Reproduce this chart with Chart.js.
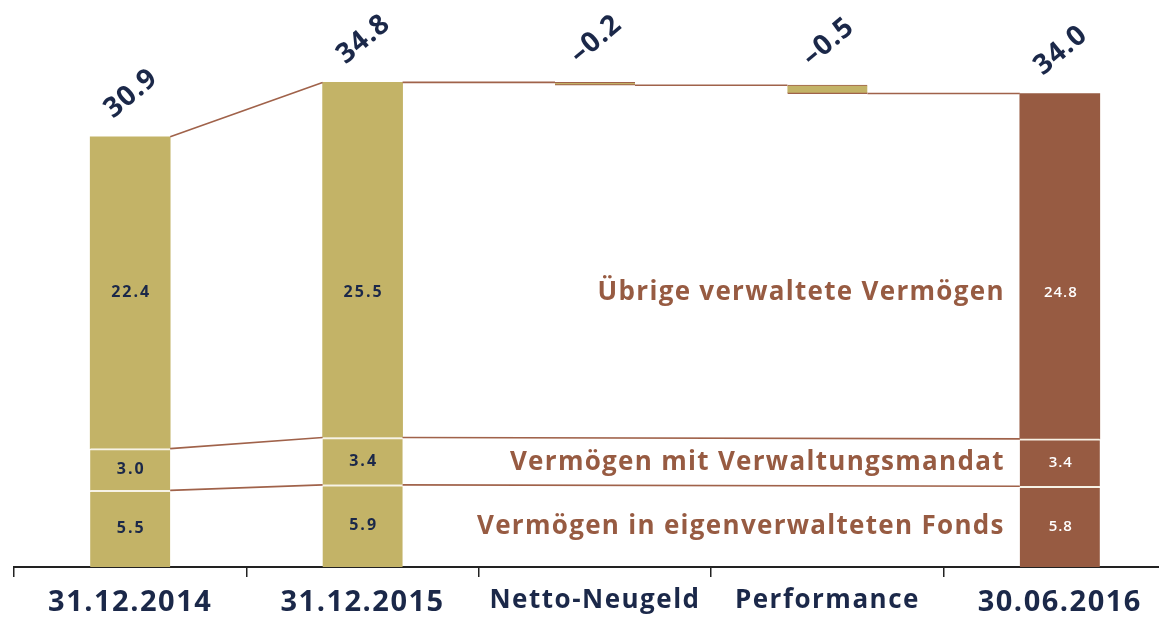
<!DOCTYPE html>
<html>
<head>
<meta charset="utf-8">
<title>Vermögen</title>
<script src="https://cdn.jsdelivr.net/npm/chart.js@4.4.1/dist/chart.umd.min.js"></script>
<style>
  html, body { margin: 0; padding: 0; background: #fff; overflow: hidden; }
  #wrap { position: relative; width: 1176px; height: 619px; }
</style>
</head>
<body>
<div id="wrap"><canvas id="chart"></canvas></div>
<script>
// data (CHF bn)
const categories = ['31.12.2014', '31.12.2015', 'Netto-Neugeld', 'Performance', '30.06.2016'];
const fondsValues = [5.5, 5.9, null, null, 5.8];
const mandatValues = [3.0, 3.4, null, null, 3.4];
const uebrigeValues = [22.4, 25.5, null, null, 24.8];
const totalValues = [30.9, 34.8, null, null, 34.0];
const changeValues = [null, null, -0.2, -0.5, null];
const changeRanges = [null, null, [34.6, 34.8], [34.0, 34.6], null];
const seriesNames = ['Vermögen in eigenverwalteten Fonds', 'Vermögen mit Verwaltungsmandat', 'Übrige verwaltete Vermögen'];

const olive = '#c3b367';
const brown = '#975b42';
const navy = '#1b2849';
const lineBrown = '#a0624a';
const sepColor = '#f7f3e6';
const FONT = "'Open Sans', 'DejaVu Sans', sans-serif";

Chart.defaults.font.family = FONT;

const barColor = (ctx) => (ctx.dataIndex === 4 ? brown : olive);

const fmt = (v) => (v < 0 ? '\u2013' + Math.abs(v).toFixed(1) : v.toFixed(1));

// letter spacing for the axis labels only
const spacingPlugin = {
  id: 'spacing',
  beforeDraw(chart) { chart.ctx.letterSpacing = '1.5px'; },
  beforeDatasetsDraw(chart) { chart.ctx.letterSpacing = '0px'; }
};

// connectors + value labels + series names
const waterfallPlugin = {
  id: 'waterfall',
  afterDatasetsDraw(chart) {
    const ctx = chart.ctx;
    const yScale = chart.scales.y;
    const fonds = chart.getDatasetMeta(0).data;
    const mandat = chart.getDatasetMeta(1).data;
    const uebrige = chart.getDatasetMeta(2).data;
    const change = chart.getDatasetMeta(3).data;

    const right = (el) => el.x + el.width / 2;
    const left = (el) => el.x - el.width / 2;
    const top = (el) => Math.min(el.y, el.base);
    const bottom = (el) => Math.max(el.y, el.base);

    ctx.save();
    ctx.strokeStyle = lineBrown;
    ctx.lineWidth = 1.6;
    const seg = (x1, y1, x2, y2) => {
      ctx.beginPath();
      ctx.moveTo(x1, y1);
      ctx.lineTo(x2, y2);
      ctx.stroke();
    };
    // totals
    seg(right(uebrige[0]), top(uebrige[0]), left(uebrige[1]), top(uebrige[1]));
    seg(right(uebrige[1]), top(uebrige[1]), left(change[2]), top(change[2]));
    seg(right(change[2]), bottom(change[2]), left(change[3]), top(change[3]));
    seg(right(change[3]), bottom(change[3]), left(uebrige[4]), top(uebrige[4]));
    // segment boundaries
    [fonds, mandat].forEach((els) => {
      seg(right(els[0]), top(els[0]), left(els[1]), top(els[1]));
      seg(right(els[1]), top(els[1]), left(els[4]), top(els[4]));
    });
    ctx.restore();

    // rotated totals / changes above the bars
    ctx.save();
    ctx.fillStyle = navy;
    ctx.font = 'bold 28px ' + FONT;
    ctx.letterSpacing = '1px';
    ctx.textAlign = 'center';
    ctx.textBaseline = 'middle';
    categories.forEach((c, i) => {
      const el = totalValues[i] !== null ? uebrige[i] : change[i];
      const v = totalValues[i] !== null ? totalValues[i] : changeValues[i];
      ctx.save();
      ctx.translate(el.x + 1, top(el) - 43);
      ctx.rotate(-40 * Math.PI / 180);
      ctx.fillText(fmt(v), 0, 0);
      ctx.restore();
    });
    ctx.restore();

    // values inside the stacked bars
    const topLabelY = yScale.getPixelForValue(19.7);
    ctx.save();
    ctx.textAlign = 'center';
    ctx.textBaseline = 'middle';
    [fonds, mandat, uebrige].forEach((els, d) => {
      const vals = chart.data.datasets[d].data;
      [0, 1, 4].forEach((i) => {
        const el = els[i];
        const y = d === 2 ? topLabelY : (el.y + el.base) / 2;
        if (i === 4) {
          ctx.fillStyle = '#ffffff';
          ctx.font = '600 15px ' + FONT;
          ctx.letterSpacing = '1px';
        } else {
          ctx.fillStyle = navy;
          ctx.font = 'bold 16px ' + FONT;
          ctx.letterSpacing = '2px';
        }
        ctx.fillText(vals[i].toFixed(1), el.x + 1, y);
      });
    });
    ctx.restore();

    // series names left of the last bar
    ctx.save();
    ctx.fillStyle = brown;
    ctx.font = 'bold 26px ' + FONT;
    ctx.letterSpacing = '1.3px';
    ctx.textAlign = 'right';
    ctx.textBaseline = 'middle';
    [fonds, mandat, uebrige].forEach((els, d) => {
      const el = els[4];
      const y = d === 2 ? topLabelY : (el.y + el.base) / 2;
      ctx.fillText(seriesNames[d], left(el) - 15, y);
    });
    ctx.restore();
  }
};

new Chart(document.getElementById('chart'), {
  type: 'bar',
  data: {
    labels: categories,
    datasets: [
      {
        label: seriesNames[0],
        data: fondsValues,
        backgroundColor: barColor,
        borderColor: sepColor,
        borderWidth: { top: 2, bottom: 0, left: 0, right: 0 },
        borderSkipped: false,
        barThickness: 80
      },
      {
        label: seriesNames[1],
        data: mandatValues,
        backgroundColor: barColor,
        borderColor: sepColor,
        borderWidth: { top: 2, bottom: 0, left: 0, right: 0 },
        borderSkipped: false,
        barThickness: 80
      },
      {
        label: seriesNames[2],
        data: uebrigeValues,
        backgroundColor: barColor,
        borderWidth: 0,
        barThickness: 80
      },
      {
        label: 'Veränderung',
        data: changeRanges,
        backgroundColor: olive,
        borderColor: lineBrown,
        borderWidth: { top: 0.8, bottom: 1.2, left: 0, right: 0 },
        borderSkipped: false,
        barThickness: 80
      }
    ]
  },
  options: {
    responsive: true,
    maintainAspectRatio: false,
    animation: false,
    layout: { padding: { left: 14, right: 0, top: 10, bottom: 0 } },
    plugins: {
      legend: { display: false },
      tooltip: { enabled: false }
    },
    scales: {
      x: {
        stacked: true,
        offset: true,
        grid: {
          display: true,
          drawOnChartArea: false,
          drawTicks: true,
          tickLength: 10,
          offset: true,
          color: '#222',
          lineWidth: 1.5
        },
        border: { display: true, color: '#222', width: 2 },
        ticks: {
          color: navy,
          // the date labels are set larger than the two movement labels
          font: (ctx) => ({
            family: FONT,
            weight: 'bold',
            size: ctx.index === 2 || ctx.index === 3 ? 26 : 29
          }),
          padding: 8,
          maxRotation: 0,
          autoSkip: false
        },
        afterFit: (scale) => { scale.height = 52; }
      },
      y: {
        stacked: true,
        display: false,
        min: 0,
        max: 40
      }
    }
  },
  plugins: [spacingPlugin, waterfallPlugin]
});
</script>
</body>
</html>
